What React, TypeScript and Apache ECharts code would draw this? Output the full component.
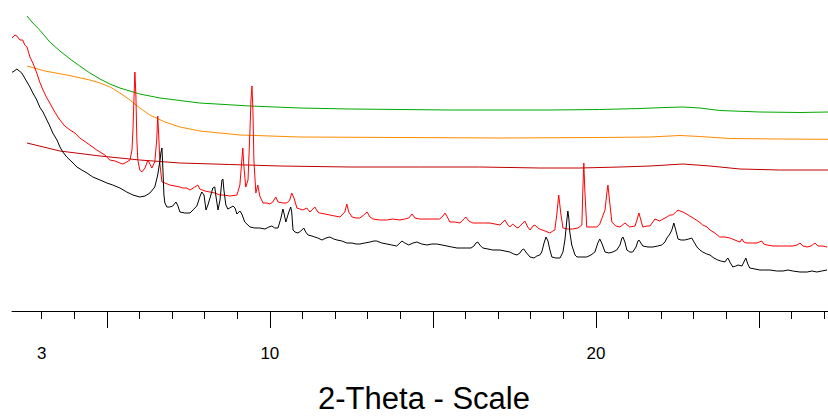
import React, { useEffect, useRef } from "react";
import * as echarts from "echarts";

// 2-Theta (deg) and intensity (arbitrary counts)
const blackPattern: number[][] = [
  [2.09, 239], [2.12, 239], [2.24, 242], [2.39, 238], [2.55, 229], [2.64, 224], [2.73, 218], [2.85, 211],
  [2.94, 204], [3.04, 199], [3.16, 191], [3.25, 185], [3.34, 178], [3.47, 171], [3.56, 164], [3.65, 159],
  [3.77, 154], [3.93, 149], [4.08, 144], [4.23, 141], [4.39, 138], [4.57, 134], [4.79, 131], [5.0, 128],
  [5.18, 126], [5.4, 123], [5.61, 119], [5.8, 116], [6.01, 114], [6.17, 115], [6.32, 118], [6.47, 124],
  [6.56, 136], [6.63, 151], [6.66, 159], [6.69, 163], [6.72, 141], [6.75, 116], [6.78, 108], [6.84, 104],
  [6.93, 104], [7.02, 105], [7.12, 109], [7.18, 105], [7.24, 99], [7.39, 98], [7.55, 98], [7.64, 101],
  [7.76, 105], [7.85, 114], [7.91, 119], [7.98, 116], [8.04, 101], [8.1, 106], [8.19, 116], [8.25, 123],
  [8.31, 124], [8.34, 116], [8.41, 101], [8.47, 111], [8.53, 131], [8.56, 132], [8.59, 121], [8.65, 106],
  [8.71, 102], [8.77, 103], [8.87, 105], [8.93, 103], [8.99, 97], [9.08, 100], [9.14, 97], [9.23, 89],
  [9.39, 84], [9.54, 83], [9.69, 83], [9.85, 82], [9.97, 84], [10.06, 85], [10.15, 83], [10.25, 83],
  [10.34, 93], [10.4, 102], [10.43, 98], [10.49, 89], [10.58, 99], [10.64, 104], [10.67, 99], [10.71, 81],
  [10.77, 79], [10.86, 78], [10.95, 80], [11.04, 83], [11.1, 79], [11.17, 76], [11.29, 75], [11.38, 74],
  [11.47, 73], [11.6, 71], [11.72, 73], [11.84, 74], [11.96, 72], [12.06, 71], [12.21, 70], [12.36, 68],
  [12.52, 68], [12.64, 67], [12.76, 67], [12.91, 68], [13.07, 69], [13.19, 70], [13.28, 70], [13.43, 68],
  [13.59, 67], [13.74, 66], [13.89, 65], [13.99, 68], [14.05, 70], [14.14, 68], [14.26, 66], [14.39, 68],
  [14.51, 69], [14.66, 67], [14.82, 66], [14.97, 67], [15.12, 67], [15.28, 66], [15.43, 65], [15.58, 64],
  [15.74, 63], [15.89, 63], [16.04, 63], [16.17, 63], [16.26, 65], [16.32, 68], [16.38, 69], [16.44, 66],
  [16.53, 63], [16.69, 62], [16.84, 61], [17.06, 61], [17.21, 60], [17.36, 59], [17.48, 57], [17.58, 56],
  [17.67, 58], [17.73, 61], [17.79, 62], [17.85, 59], [17.98, 54], [18.1, 53], [18.19, 55], [18.28, 56],
  [18.34, 59], [18.41, 68], [18.47, 74], [18.53, 70], [18.59, 61], [18.65, 54], [18.77, 53], [18.9, 53],
  [18.99, 59], [19.05, 71], [19.11, 91], [19.14, 100], [19.17, 93], [19.2, 79], [19.26, 66], [19.36, 56],
  [19.42, 54], [19.57, 54], [19.72, 54], [19.85, 56], [19.97, 59], [20.06, 68], [20.12, 72], [20.18, 68],
  [20.28, 59], [20.4, 58], [20.52, 59], [20.64, 61], [20.74, 66], [20.8, 73], [20.83, 74], [20.89, 69],
  [20.95, 61], [21.04, 59], [21.13, 59], [21.23, 64], [21.29, 70], [21.32, 71], [21.38, 68], [21.44, 65],
  [21.6, 64], [21.75, 64], [21.9, 65], [22.02, 66], [22.12, 69], [22.18, 73], [22.27, 77], [22.33, 81],
  [22.39, 88], [22.45, 81], [22.52, 72], [22.61, 71], [22.73, 71], [22.85, 72], [22.94, 73], [23.01, 69],
  [23.1, 64], [23.19, 61], [23.28, 59], [23.4, 57], [23.5, 56], [23.62, 53], [23.74, 51], [23.83, 50],
  [23.96, 49], [24.02, 52], [24.05, 53], [24.11, 49], [24.2, 44], [24.29, 45], [24.36, 46], [24.48, 45],
  [24.54, 49], [24.6, 53], [24.66, 47], [24.72, 43], [24.88, 42], [25.03, 41], [25.18, 41], [25.34, 41],
  [25.55, 40], [25.74, 40], [25.89, 41], [26.04, 40], [26.26, 39], [26.48, 39], [26.63, 40], [26.78, 39],
  [26.93, 40], [27.09, 41],
];

const redPattern: number[][] = [
  [2.09, 273], [2.18, 276], [2.24, 275], [2.33, 271], [2.42, 271], [2.48, 266], [2.55, 264], [2.64, 254],
  [2.73, 248], [2.85, 238], [2.94, 229], [3.04, 221], [3.16, 213], [3.25, 208], [3.4, 199], [3.56, 191],
  [3.71, 185], [3.87, 181], [4.02, 178], [4.17, 173], [4.26, 171], [4.39, 168], [4.48, 166], [4.69, 161],
  [4.79, 159], [4.94, 156], [5.09, 151], [5.25, 150], [5.4, 148], [5.49, 147], [5.61, 149], [5.71, 151],
  [5.77, 161], [5.8, 181], [5.83, 211], [5.86, 239], [5.89, 216], [5.92, 171], [5.95, 151], [6.01, 141],
  [6.07, 139], [6.17, 143], [6.26, 151], [6.29, 149], [6.38, 143], [6.47, 149], [6.53, 171], [6.56, 195],
  [6.59, 176], [6.63, 146], [6.69, 129], [6.78, 128], [6.93, 126], [7.09, 125], [7.24, 124], [7.33, 123],
  [7.45, 123], [7.55, 121], [7.7, 124], [7.79, 126], [7.85, 122], [8.01, 120], [8.16, 119], [8.31, 118],
  [8.47, 116], [8.56, 116], [8.77, 115], [8.99, 116], [9.08, 126], [9.14, 151], [9.17, 163], [9.2, 146],
  [9.26, 124], [9.33, 131], [9.39, 181], [9.42, 211], [9.45, 225], [9.48, 201], [9.51, 151], [9.57, 118],
  [9.63, 126], [9.69, 115], [9.79, 108], [9.91, 108], [10.0, 107], [10.09, 109], [10.18, 114], [10.25, 109],
  [10.4, 108], [10.52, 108], [10.61, 111], [10.67, 118], [10.74, 113], [10.83, 103], [10.92, 102], [11.01, 101],
  [11.13, 103], [11.23, 99], [11.38, 104], [11.47, 99], [11.53, 98], [11.69, 97], [11.84, 96], [11.99, 95],
  [12.15, 94], [12.3, 99], [12.36, 107], [12.42, 99], [12.52, 94], [12.64, 93], [12.76, 93], [12.88, 96],
  [12.98, 99], [13.07, 94], [13.16, 92], [13.37, 91], [13.59, 91], [13.77, 92], [13.99, 91], [14.14, 92],
  [14.26, 93], [14.36, 97], [14.45, 93], [14.6, 92], [14.82, 92], [15.0, 92], [15.21, 92], [15.31, 95],
  [15.37, 98], [15.46, 93], [15.52, 89], [15.67, 89], [15.83, 88], [15.92, 91], [16.01, 94], [16.1, 90],
  [16.23, 88], [16.44, 88], [16.59, 88], [16.75, 88], [16.9, 87], [17.06, 86], [17.15, 89], [17.21, 91],
  [17.3, 86], [17.36, 84], [17.45, 87], [17.55, 84], [17.61, 83], [17.73, 87], [17.82, 90], [17.91, 84],
  [17.98, 81], [18.07, 85], [18.13, 86], [18.22, 83], [18.28, 82], [18.44, 80], [18.59, 78], [18.68, 80],
  [18.74, 81], [18.8, 96], [18.86, 116], [18.93, 96], [18.99, 83], [19.14, 82], [19.29, 82], [19.45, 83],
  [19.57, 86], [19.6, 121], [19.63, 148], [19.66, 121], [19.72, 84], [19.88, 84], [20.03, 84], [20.12, 87],
  [20.28, 101], [20.34, 119], [20.37, 126], [20.4, 116], [20.49, 89], [20.61, 85], [20.74, 84], [20.89, 88],
  [21.04, 84], [21.2, 85], [21.26, 91], [21.32, 98], [21.38, 91], [21.44, 84], [21.57, 85], [21.66, 85],
  [21.81, 92], [21.96, 90], [22.06, 92], [22.18, 94], [22.27, 96], [22.36, 96], [22.45, 99], [22.52, 101],
  [22.58, 100], [22.67, 99], [22.73, 98], [22.88, 95], [22.98, 93], [23.13, 90], [23.28, 86], [23.41, 84],
  [23.5, 81], [23.65, 78], [23.8, 74], [23.96, 74], [24.11, 73], [24.26, 71], [24.42, 69], [24.48, 72],
  [24.54, 69], [24.63, 68], [24.79, 68], [24.94, 68], [25.09, 70], [25.15, 67], [25.25, 66], [25.43, 65],
  [25.64, 65], [25.86, 65], [26.04, 65], [26.17, 66], [26.26, 68], [26.35, 65], [26.48, 64], [26.6, 65],
  [26.72, 68], [26.81, 65], [26.96, 65], [27.09, 64],
];

const darkRedPattern: number[][] = [
  [2.55, 168], [3.56, 160], [4.79, 155], [6.01, 151], [7.24, 148], [8.77, 146.5], [10.31, 145], [12.45, 144],
  [14.6, 144], [16.44, 144], [18.28, 143], [19.51, 143], [20.74, 144], [21.66, 145], [22.67, 147], [23.5, 145],
  [24.42, 142], [25.64, 141], [27.12, 141],
];

const orangePattern: number[][] = [
  [2.55, 245], [3.1, 240], [3.77, 236], [4.48, 231], [4.79, 228], [5.1, 224], [5.4, 218], [5.71, 211],
  [6.01, 203], [6.32, 196], [6.78, 189], [7.24, 184], [7.85, 180], [9.08, 176], [10.92, 174], [13.99, 173.5],
  [17.06, 173], [20.12, 173.5], [21.66, 174], [22.58, 175.5], [23.19, 174.5], [24.11, 172.5], [25.64, 172],
  [27.12, 171.7],
];

const greenPattern: number[][] = [
  [2.55, 295], [2.73, 288], [2.94, 281], [3.25, 269], [3.56, 260], [3.87, 252], [4.17, 245], [4.48, 238],
  [4.79, 232], [5.09, 227], [5.4, 223], [6.01, 217], [6.63, 213], [7.85, 208], [9.39, 205], [10.92, 203],
  [12.45, 202], [13.99, 201.5], [15.52, 201], [17.06, 201], [18.59, 201], [20.12, 201.5], [21.35, 202.5],
  [22.12, 203.5], [22.67, 204], [23.19, 203], [23.8, 200.5], [25.03, 199], [26.26, 198.5], [27.12, 199],
];

const LABEL_TICKS = [3, 10, 20];
const MINOR_TICKS = [3, 4, 6, 7, 8, 9, 11, 12, 13, 14, 16, 17, 18, 19, 21, 22, 23, 24, 26, 27];
const MAJOR_TICKS = [5, 10, 15, 20, 25];
const X_MIN = 2.09;
const X_MAX = 27.12;
const AXIS_TITLE = "2-Theta - Scale";

const FONT = "'Liberation Sans', Arial, Helvetica, sans-serif";

export default function App() {
  const ref = useRef<HTMLDivElement>(null);
  useEffect(() => {
    if (!ref.current) return;
    const chart = echarts.init(ref.current, null, { renderer: "svg" });
    const line = (data: number[][], color: string) => ({
      type: "line",
      data,
      showSymbol: false,
      symbol: "none",
      smooth: false,
      lineStyle: { color, width: 1 },
      itemStyle: { color },
      z: 2,
    });
    chart.setOption({
      animation: false,
      backgroundColor: "#ffffff",
      grid: { left: 12, right: 0, top: 0, bottom: 105, containLabel: false },
      xAxis: [
        {
          type: "value",
          min: X_MIN,
          max: X_MAX,
          position: "bottom",
          axisLine: { show: true, lineStyle: { color: "#000", width: 1 } },
          axisTick: { show: true, customValues: MINOR_TICKS, length: 8, lineStyle: { color: "#000", width: 1 } },
          axisLabel: {
            show: true,
            customValues: LABEL_TICKS,
            margin: 34,
            fontSize: 17,
            color: "#000",
            fontFamily: FONT,
          },
          splitLine: { show: false },
        },
        {
          type: "value",
          min: X_MIN,
          max: X_MAX,
          position: "bottom",
          offset: 0,
          axisLine: { show: false },
          axisTick: { show: true, customValues: MAJOR_TICKS, length: 17, lineStyle: { color: "#000", width: 1 } },
          axisLabel: { show: false },
          splitLine: { show: false },
        },
      ],
      yAxis: { type: "value", min: 0, max: 311, show: false },
      graphic: [
        {
          type: "text",
          x: 424,
          y: 398,
          style: {
            text: AXIS_TITLE,
            fontSize: 31,
            fontFamily: FONT,
            fill: "#000",
            textAlign: "center",
            textVerticalAlign: "middle",
          },
        },
      ],
      series: [
        line(greenPattern, "#00a800"),
        line(orangePattern, "#ff8c00"),
        line(darkRedPattern, "#c00000"),
        line(redPattern, "#ff0000"),
        line(blackPattern, "#000000"),
      ],
    });
    return () => chart.dispose();
  }, []);
  return (
    <div
      ref={ref}
      style={{ position: "fixed", left: 0, top: 0, width: 828, height: 416, background: "#fff" }}
    />
  );
}
